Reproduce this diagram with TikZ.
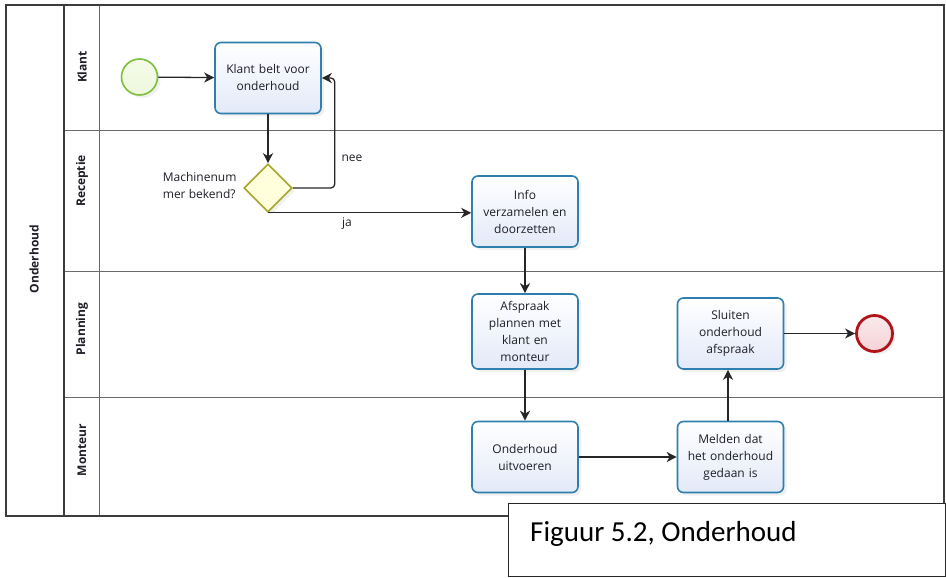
\documentclass[tikz,border=0pt]{standalone}
\usepackage{fontspec}
\setmainfont{Open Sans}
\newfontfamily\capfont{Carlito}
\usetikzlibrary{shapes.geometric,arrows.meta,shadows}

\definecolor{taskline}{HTML}{2E7FAE}
\definecolor{taskfill}{HTML}{E2E9F8}
\definecolor{gwline}{HTML}{A5A52A}
\definecolor{gwfill}{HTML}{FFFFDC}
\definecolor{startline}{HTML}{7BBF3A}
\definecolor{startfill}{HTML}{EEF8DC}
\definecolor{endline}{HTML}{B0141A}
\definecolor{endfill}{HTML}{F5D3D7}
\definecolor{poolline}{HTML}{3C3C3C}
\definecolor{laneline}{HTML}{6A6A6A}
\definecolor{txt}{HTML}{1E1E28}

\tikzset{
  softshadow/.style={drop shadow={opacity=0.12, shadow xshift=3pt, shadow yshift=-3pt}},
  task/.style={draw=taskline, line width=1.6pt, rounded corners=6pt,
    top color=white, bottom color=taskfill, softshadow,
    minimum width=106pt, minimum height=71pt, inner sep=2pt,
    align=center, text width=100pt, text=txt,
    font=\fontsize{12}{17}\selectfont},
  gateway/.style={diamond, aspect=1, draw=gwline, line width=1.6pt,
    fill=gwfill, softshadow, minimum size=48pt, inner sep=0pt},
  startev/.style={circle, draw=startline, line width=1.6pt,
    top color=startfill!60!white, bottom color=startfill, softshadow,
    minimum size=36pt, inner sep=0pt},
  endev/.style={circle, draw=endline, line width=2.8pt,
    top color=endfill!50!white, bottom color=endfill, softshadow,
    minimum size=36pt, inner sep=0pt},
  flow/.style={draw=black!85, line width=1.3pt, -{Stealth[length=10pt,width=10pt,inset=3pt]}},
  lanelabel/.style={rotate=90, font=\bfseries\fontsize{12}{14}\selectfont, text=txt},
  poollabel/.style={rotate=90, font=\bfseries\fontsize{12}{14}\selectfont, text=txt},
  flowlabel/.style={font=\fontsize{12}{17}\selectfont, text=txt},
}

\begin{document}
\begin{tikzpicture}[x=1pt, y=-1pt]
\useasboundingbox (0,0) rectangle (946,578);

% pool frame, lane header column and lane separators
\draw[laneline, line width=1pt] (99,5) -- (99,516);
\draw[laneline, line width=1pt] (64,130) -- (944,130);
\draw[laneline, line width=1pt] (64,271) -- (944,271);
\draw[laneline, line width=1pt] (64,397) -- (944,397);
\draw[poolline, line width=1.3pt] (64,5) -- (64,516);
\draw[poolline, line width=1.3pt] (6,5) rectangle (944,516);
\draw[poolline, line width=2.4pt] (944,4) -- (944,516);

% pool and lane titles
\node[poollabel] (pOnderhoud) at (34,259) {Onderhoud};
\node[lanelabel] (lKlant) at (82,67) {Klant};
\node[lanelabel] (lReceptie) at (82,181) {Receptie};
\node[lanelabel] (lPlanning) at (82,329) {Planning};
\node[lanelabel] (lMonteur) at (82,450) {Monteur};

% events, gateway and tasks
\node[startev] (start) at (139.5,77) {};
\node[task] (t1) at (268,78) {Klant belt voor\\onderhoud};
\node[gateway] (gw) at (268,188) {};
\node[task] (t2) at (525,211.5) {Info\\verzamelen en\\doorzetten};
\node[task, minimum height=75pt] (t3) at (525,331.5) {Afspraak\\plannen met\\klant en\\monteur};
\node[task] (t4) at (525,457) {Onderhoud\\uitvoeren};
\node[task] (t5) at (730.5,457) {Melden dat\\het onderhoud\\gedaan is};
\node[task] (t6) at (730.5,333.5) {Sluiten\\onderhoud\\afspraak};
\node[endev] (end) at (874.5,333.5) {};

% gateway question and branch labels
\node[flowlabel, anchor=east, align=left] (gwq) at (240,186) {Machinenum\\mer bekend?};
\node[flowlabel] (lnee) at (352,158) {nee};
\node[flowlabel] (lja) at (347,224) {ja};

% sequence flows
\draw[flow] (start) -- (t1);
\draw[flow] (t1) -- (gw);
\draw[flow, rounded corners=4pt] (gw.east) -| ([xshift=13pt]t1.east) -- (t1.east);
\draw[flow] (gw.south) -- (gw.south -| t2.west);
\draw[flow] (t2) -- (t3);
\draw[flow] (t3) -- (t4);
\draw[flow] (t4) -- (t5);
\draw[flow] ([xshift=-2.5pt]t5.north) -- ([xshift=-2.5pt]t6.south);
\draw[flow] (t6) -- (end);

% caption box laid over the pool's lower edge
\node[draw=black!85, line width=1.3pt, fill=white, anchor=north west,
  minimum width=437pt, minimum height=73pt, inner sep=0pt] (capbox) at (508,503) {};
\node[anchor=base west, inner sep=0pt, font=\capfont\fontsize{29}{33}\selectfont]
  (caption) at (530,541) {Figuur 5.2, Onderhoud};
\end{tikzpicture}
\end{document}
